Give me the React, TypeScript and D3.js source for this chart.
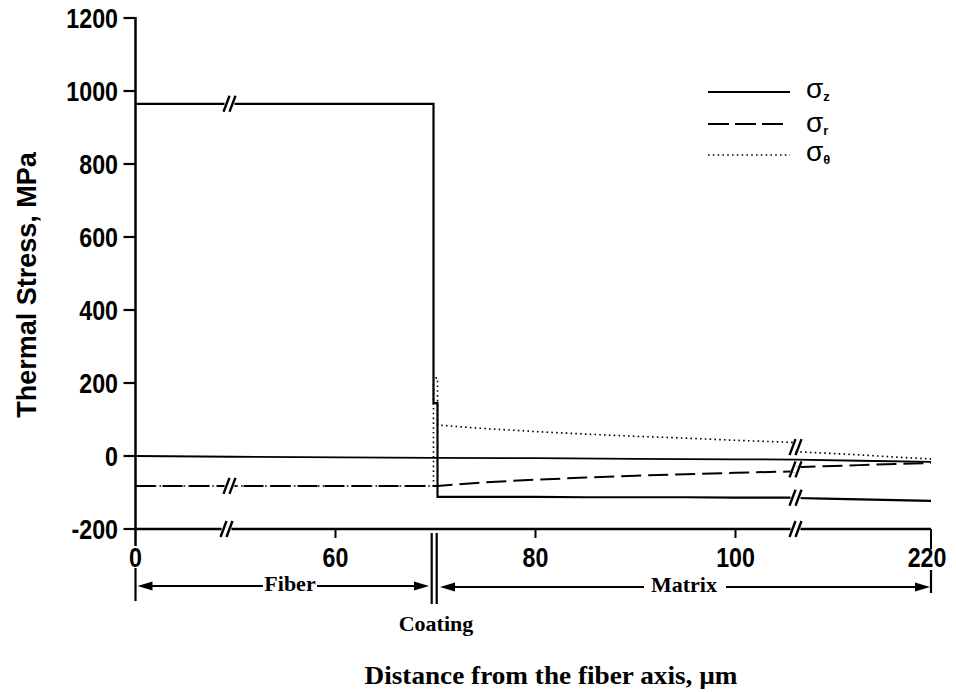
import React from "react";
import * as d3 from "d3";

// axis ticks
const yTicks = [-200, 0, 200, 400, 600, 800, 1000, 1200];
const xTicks = [0, 60, 80, 100, 220];

// radial positions, µm
const fiberRadius = [0, 69.8];
const coatingRadius = [69.8, 70.2];
const matrixNearRadius = [70.2, 72, 75, 80, 85, 90, 95, 100, 106];
const matrixFarRadius = [106, 130, 160, 190, 220];

// stresses, MPa
const sigmaZFiber = [965, 965];
const sigmaZCoating = [145, 145];
const sigmaZNear = [-112, -112, -112, -112, -113, -113, -113, -114, -114];
const sigmaZFar = [-115, -117, -119, -121, -123];

const sigmaRFiber = [-82, -82];
const sigmaRCoating = [-82, -82];
const sigmaRNear = [-82, -78, -72, -65, -59, -54, -50, -46, -42];
const sigmaRFar = [-31, -28, -25, -22, -19];

const sigmaThetaFiber = [-82, -82];
const sigmaThetaCoating = [214, 214];
const sigmaThetaNear = [85, 81, 75, 67, 60, 54, 49, 43, 37];
const sigmaThetaFar = [12, 8, 3, -3, -8];

// thin solid line close to zero
const refRadius = [0, 48.5, 69.8, 80, 90, 100, 106, 160, 220];
const refValues = [0, -2, -5, -6, -8, -9, -10, -13, -16];

// where the axis is broken
const breakRadii = [48.5, 106];

const W = 956;
const H = 692;

const x = d3.scaleLinear().domain([0, 50, 106, 220]).range([135.5, 235.5, 795.5, 931]);
const y = d3.scaleLinear().domain([-200, 1200]).range([529, 18]);

const zip = (xs: number[], ys: number[]) => xs.map((r, i) => [r, ys[i]] as [number, number]);
const line = d3
  .line<[number, number]>()
  .x((d) => x(d[0]))
  .y((d) => y(d[1]));

const series = [
  { key: "theta", fiber: sigmaThetaFiber, coating: sigmaThetaCoating, near: sigmaThetaNear, far: sigmaThetaFar, dash: "1.6,3.2", w: 1.6 },
  { key: "r", fiber: sigmaRFiber, coating: sigmaRCoating, near: sigmaRNear, far: sigmaRFar, dash: "20,7", w: 2 },
  { key: "z", fiber: sigmaZFiber, coating: sigmaZCoating, near: sigmaZNear, far: sigmaZFar, dash: undefined, w: 2.2 },
];

const SANS = "'Liberation Sans', Arial, sans-serif";
const SERIF = "'Liberation Serif', 'Times New Roman', serif";

function BreakMark({ cx, cy }: { cx: number; cy: number }) {
  return (
    <g>
      <rect x={cx - 5} y={cy - 3} width={10} height={6} fill="white" />
      {[-3, 3].map((o) => (
        <line key={o} x1={cx + o - 3} y1={cy + 8} x2={cx + o + 3} y2={cy - 8} stroke="black" strokeWidth={2.4} />
      ))}
    </g>
  );
}

function Arrow({ x1, x2, yy }: { x1: number; x2: number; yy: number }) {
  const len = 15;
  const hw = 4.5;
  return (
    <g>
      <line x1={x1 + len - 2} x2={x2 - len + 2} y1={yy} y2={yy} stroke="black" strokeWidth={2} />
      <path d={`M${x1},${yy} L${x1 + len},${yy - hw} L${x1 + len},${yy + hw} Z`} fill="black" />
      <path d={`M${x2},${yy} L${x2 - len},${yy - hw} L${x2 - len},${yy + hw} Z`} fill="black" />
    </g>
  );
}

// tick label, slightly condensed like the scanned original
function TickText({ tx, ty, anchor, dy, children }: { tx: number; ty: number; anchor: string; dy?: string; children: React.ReactNode }) {
  return (
    <text
      transform={`translate(${tx},${ty}) scale(0.86,1)`}
      dy={dy}
      textAnchor={anchor}
      fontFamily={SANS}
      fontWeight="bold"
      fontSize={27}
    >
      {children}
    </text>
  );
}

export default function App() {
  const x0 = x(0);
  const y0 = y(-200);
  const bx1 = x(breakRadii[0]) - 3;
  const bx2 = x(breakRadii[1]);

  const breaks: { cx: number; cy: number }[] = [
    { cx: bx1, cy: y(sigmaZFiber[0]) },
    { cx: bx1, cy: y(sigmaRFiber[0]) },
    { cx: bx1 - 3, cy: y0 },
    { cx: bx2, cy: y((sigmaThetaNear[sigmaThetaNear.length - 1] + sigmaThetaFar[0]) / 2) },
    { cx: bx2, cy: y((sigmaRNear[sigmaRNear.length - 1] + sigmaRFar[0]) / 2) },
    { cx: bx2, cy: y((sigmaZNear[sigmaZNear.length - 1] + sigmaZFar[0]) / 2) },
    { cx: bx2, cy: y0 },
  ];

  return (
    <svg width={W} height={H} style={{ position: "absolute", left: 0, top: 0, background: "white" }}>
      <rect width={W} height={H} fill="white" />

      {/* reference line */}
      <path d={line(zip(refRadius, refValues)) || ""} fill="none" stroke="black" strokeWidth={1.8} />

      {/* stress curves */}
      {series.map((s) => (
        <g key={s.key}>
          <path
            d={line([...zip(fiberRadius, s.fiber), ...zip(coatingRadius, s.coating), ...zip(matrixNearRadius, s.near)]) || ""}
            fill="none"
            stroke="black"
            strokeWidth={s.w}
            strokeDasharray={s.dash}
          />
          <path
            d={line(zip(matrixFarRadius, s.far)) || ""}
            fill="none"
            stroke="black"
            strokeWidth={s.w}
            strokeDasharray={s.dash}
          />
        </g>
      ))}

      {/* axes */}
      <line x1={x0} x2={x0} y1={y(1200) - 1} y2={546} stroke="black" strokeWidth={2.5} />
      <line x1={x0} x2={x(220)} y1={y0} y2={y0} stroke="black" strokeWidth={2.5} />
      {yTicks.map((t) => (
        <g key={t}>
          <line x1={x0 - 12} x2={x0} y1={y(t)} y2={y(t)} stroke="black" strokeWidth={2.2} />
          <TickText tx={118} ty={y(t)} anchor="end" dy="0.36em">
            {t}
          </TickText>
        </g>
      ))}
      {xTicks.map((t) => (
        <g key={t}>
          {t !== 0 && <line x1={x(t)} x2={x(t)} y1={y0} y2={t === 220 ? y0 + 20 : y0 + 9} stroke="black" strokeWidth={2} />}
          <TickText tx={t === 220 ? x(t) - 4 : x(t)} ty={567} anchor="middle">
            {t}
          </TickText>
        </g>
      ))}

      {breaks.map((b, i) => (
        <BreakMark key={i} cx={b.cx} cy={b.cy} />
      ))}

      {/* region brackets */}
      <line x1={x0} x2={x0} y1={568} y2={601} stroke="black" strokeWidth={2.2} />
      <line x1={x(220)} x2={x(220)} y1={570} y2={593} stroke="black" strokeWidth={2.2} />
      <line x1={431.7} x2={431.7} y1={533} y2={604} stroke="black" strokeWidth={2.2} />
      <line x1={436.7} x2={436.7} y1={533} y2={604} stroke="black" strokeWidth={2.2} />
      <Arrow x1={x0 + 2} x2={429} yy={586} />
      <Arrow x1={440} x2={x(220) - 1} yy={587} />
      <rect x={263} y={574} width={54} height={20} fill="white" />
      <text x={290} y={591} textAnchor="middle" fontFamily={SERIF} fontWeight="bold" fontSize={22}>
        Fiber
      </text>
      <rect x={644} y={575} width={82} height={20} fill="white" />
      <text x={684} y={592} textAnchor="middle" fontFamily={SERIF} fontWeight="bold" fontSize={22}>
        Matrix
      </text>
      <text x={436} y={631} textAnchor="middle" fontFamily={SERIF} fontWeight="bold" fontSize={22}>
        Coating
      </text>

      {/* titles */}
      <text x={551} y={684} textAnchor="middle" fontFamily={SERIF} fontWeight="bold" fontSize={26} textLength={373} lengthAdjust="spacingAndGlyphs">
        Distance from the fiber axis, µm
      </text>
      <text transform="translate(36,285) rotate(-90)" textAnchor="middle" fontFamily={SANS} fontWeight="bold" fontSize={27}>
        Thermal Stress, MPa
      </text>

      {/* legend */}
      <line x1={708} x2={790} y1={92} y2={92} stroke="black" strokeWidth={2.2} />
      <line x1={708} x2={785} y1={124} y2={124} stroke="black" strokeWidth={2} strokeDasharray="21,6" />
      <line x1={708} x2={790} y1={155} y2={155} stroke="black" strokeWidth={1.6} strokeDasharray="1.6,3.2" />
      {[
        { sub: "z", yy: 98 },
        { sub: "r", yy: 132 },
        { sub: "θ", yy: 161 },
      ].map((l) => (
        <text key={l.sub} x={806} y={l.yy} fontFamily={SANS} fontSize={28}>
          σ
          <tspan fontSize={13} fontWeight="bold" dy={3}>
            {l.sub}
          </tspan>
        </text>
      ))}
    </svg>
  );
}
